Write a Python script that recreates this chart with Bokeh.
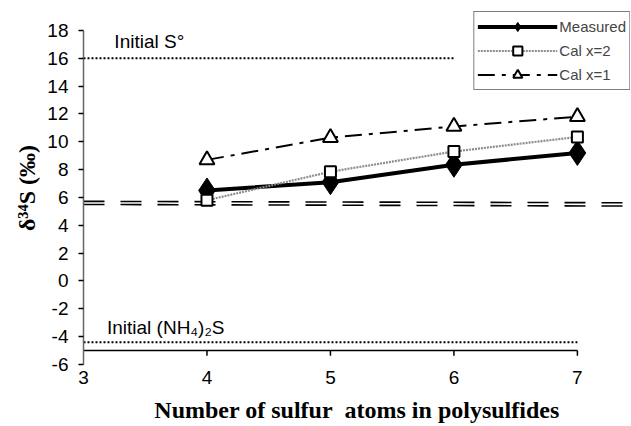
from bokeh.plotting import figure
from bokeh.models import Range1d, Label, Legend, LegendItem, FixedTicker
from bokeh.embed import file_html
from bokeh.resources import INLINE

# data
n_atoms = [4, 5, 6, 7]
measured = [6.5, 7.1, 8.35, 9.2]
cal_x2 = [5.8, 7.85, 9.3, 10.35]
cal_x1 = [8.7, 10.3, 11.1, 11.8]

s0_x = [3, 6]
s0_y = [16.0, 16.0]
nh4_x = [3, 7]
nh4_y = [-4.4, -4.4]

dashA_x = [3, 7.43]
dashA_y = [5.72, 5.62]
dashB_x = [3, 7.43]
dashB_y = [5.50, 5.38]

y_ticks = [-6, -4, -2, 0, 2, 4, 6, 8, 10, 12, 14, 16, 18]
x_ticks = [3, 4, 5, 6, 7]
x_axis_cross = -5  # horizontal axis crosses the value axis at -5

p = figure(width=630, height=425, output_backend="svg", toolbar_location=None,
           x_range=Range1d(3, 7.43), y_range=Range1d(-6, 19.36),
           min_border_left=83, min_border_right=0, min_border_top=11,
           min_border_bottom=61)
p.outline_line_color = None
p.grid.grid_line_color = None
p.background_fill_color = "white"

# axes
p.xaxis.bounds = (3, 7)
p.yaxis.bounds = (-6, 18)
p.xaxis.ticker = FixedTicker(ticks=x_ticks)
p.yaxis.ticker = FixedTicker(ticks=y_ticks)
p.yaxis.major_label_overrides = {t: str(t) for t in y_ticks}
for ax in (p.xaxis, p.yaxis):
    ax.minor_tick_line_color = None
    ax.major_tick_in = 0
    ax.major_tick_line_color = "black"
    ax.major_tick_line_width = 1.5
    ax.major_label_text_font = "Liberation Sans"
    ax.major_label_text_font_size = "19px"
    ax.major_label_text_color = "black"
    ax.axis_label_text_font = "Liberation Serif"
    ax.axis_label_text_font_style = "bold"
    ax.axis_label_text_font_size = "24px"
    ax.axis_label_text_color = "black"
p.yaxis.major_tick_out = 5
p.xaxis.major_tick_out = 0
p.xaxis.major_tick_line_color = None
p.xaxis.axis_line_color = None
p.yaxis.axis_line_color = "#666666"
p.yaxis.axis_line_width = 1.5
p.xaxis.major_label_standoff = 6
p.yaxis.major_label_standoff = 10
p.xaxis.axis_label = "Number of sulfur\u00a0 atoms in polysulfides"
p.xaxis.axis_label_standoff = 10
p.yaxis.axis_label = "δ³⁴S (‰)"
p.yaxis.axis_label_standoff = 4

# horizontal axis line drawn where it crosses (y = -5), with its tick marks
p.line([x_ticks[0], x_ticks[-1]], [x_axis_cross, x_axis_cross],
       line_color="black", line_width=1.5)
p.segment(x0=x_ticks[1:], y0=[x_axis_cross] * 4, x1=x_ticks[1:],
          y1=[x_axis_cross - 0.38] * 4, line_color="black", line_width=1.5)

# reference lines
p.line(s0_x, s0_y, line_color="black", line_width=2.2, line_dash="2 2")
p.line(nh4_x, nh4_y, line_color="black", line_width=2.2, line_dash="2 2")
p.line(dashA_x, dashA_y, line_color="black", line_width=1.6, line_dash="21 16")
p.line(dashB_x, dashB_y, line_color="black", line_width=1.6, line_dash="21 16")

# series
l1 = p.line(n_atoms, measured, line_color="black", line_width=4)
m1 = p.scatter(n_atoms, measured, marker="diamond", size=25, fill_color="black",
               line_color="black")
l2 = p.line(n_atoms, cal_x2, line_color="#8c8c8c", line_width=2.2, line_dash="2 1")
m2 = p.scatter(n_atoms, cal_x2, marker="square", size=11, fill_color="white",
               line_color="black", line_width=2)
l3 = p.line(n_atoms, cal_x1, line_color="black", line_width=2, line_dash="17 7 4 7")
m3 = p.scatter(n_atoms, cal_x1, marker="triangle", size=15, fill_color="white",
               line_color="black", line_width=2)

legend = Legend(items=[
    LegendItem(label="Measured", renderers=[l1, m1]),
    LegendItem(label="Cal x=2", renderers=[l2, m2]),
    LegendItem(label="Cal x=1", renderers=[l3, m3]),
], location="top_right")
legend.margin = 0
legend.padding = 3
legend.spacing = 1
legend.glyph_width = 80
legend.glyph_height = 23
legend.label_height = 23
legend.label_standoff = 2
legend.label_text_font = "Liberation Sans"
legend.label_text_font_size = "15px"
legend.border_line_color = "black"
legend.border_line_width = 1.2
legend.background_fill_alpha = 1
p.add_layout(legend)

# annotations
p.add_layout(Label(x=3.25, y=17.2, text="Initial S°", text_font="Liberation Sans",
                   text_font_size="19px", text_baseline="middle", text_color="black"))
p.add_layout(Label(x=3.19, y=-3.35, text="Initial (NH₄)₂S", text_font="Liberation Sans",
                   text_font_size="19px", text_baseline="middle", text_color="black"))

open("out.html", "w").write(file_html(p, INLINE))
